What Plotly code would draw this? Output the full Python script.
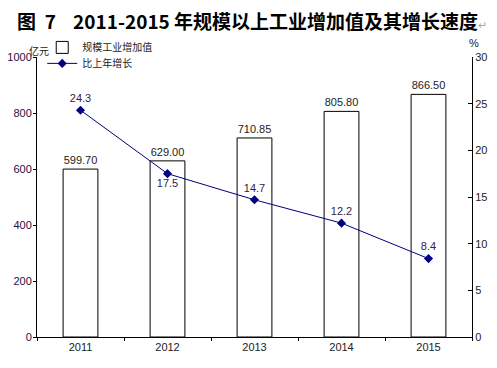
import plotly.graph_objects as go

years = ["2011", "2012", "2013", "2014", "2015"]
value_added = [599.70, 629.00, 710.85, 805.80, 866.50]
growth = [24.3, 17.5, 14.7, 12.2, 8.4]
growth_label_pos = ["top center", "bottom center", "top center", "top center", "top center"]

fig = go.Figure()
fig.add_trace(go.Bar(
    x=years, y=value_added, name="规模工业增加值",
    marker=dict(color="white", line=dict(color="black", width=1)),
    width=0.4,
    texttemplate="%{y:.2f}", textposition="outside",
    textfont=dict(size=11, color="#222", family="Arial"),
    cliponaxis=False, legend="legend",
))
fig.add_trace(go.Scatter(
    x=years, y=growth, name="比上年增长", yaxis="y2",
    mode="lines+markers+text",
    line=dict(color="#000080", width=1),
    marker=dict(symbol="diamond", size=7, color="#000080"),
    text=[f"{v:.1f}" for v in growth], textposition=growth_label_pos,
    textfont=dict(size=11, color="#3a1a4a", family="Arial"),
    cliponaxis=False, legend="legend2",
))

legend_font = dict(size=10, family="Noto Sans CJK SC", color="#222")
fig.update_layout(
    width=489, height=360,
    paper_bgcolor="white", plot_bgcolor="white",
    margin=dict(l=29, r=25, t=49, b=31, pad=0, autoexpand=False),
    font=dict(family="Arial, Liberation Sans, sans-serif", size=11, color="#222"),
    showlegend=True,
    legend=dict(x=0.012, y=1.086, xanchor="left", yanchor="top",
                bgcolor="rgba(0,0,0,0)", font=legend_font, itemwidth=30),
    legend2=dict(x=0.012, y=1.029, xanchor="left", yanchor="top",
                 bgcolor="rgba(0,0,0,0)", font=legend_font, itemwidth=30),
    bargap=0.6,
    xaxis=dict(range=[-0.5, 4.5], showline=True, linecolor="black", linewidth=1,
               ticks="outside", ticklen=3, tickcolor="black", tickson="boundaries",
               showgrid=False, tickfont=dict(size=11), automargin=False),
    yaxis=dict(range=[0, 1000], dtick=200, showline=True, linecolor="black", linewidth=1,
               ticks="outside", ticklen=3, tickcolor="black", showgrid=False, zeroline=False,
               tickfont=dict(size=11, color="#2a1040"), automargin=False,
               ticklabelstandoff=-1),
    yaxis2=dict(range=[0, 30], dtick=5, overlaying="y", side="right",
                showline=True, linecolor="black", linewidth=1,
                ticks="inside", ticklen=4, tickcolor="black", showgrid=False, zeroline=False,
                tickfont=dict(size=11), automargin=False),
    annotations=[
        dict(text="<b>图&nbsp;&nbsp;7&nbsp;&nbsp;&nbsp;&nbsp;2011-2015 年规模以上工业增加值及其增长速度</b><span style='color:#aaa;font-size:11px'>↵</span>",
             x=0, y=1, xref="paper", yref="paper", xanchor="left", yanchor="middle",
             showarrow=False, font=dict(size=19, family="Noto Sans CJK SC", color="black"),
             xshift=-22, yshift=37),
        dict(text="亿元", x=0, y=1, xref="paper", yref="paper", xanchor="center", yanchor="middle",
             showarrow=False, font=dict(size=10, family="Noto Sans CJK SC", color="#222"),
             xshift=2, yshift=7),
        dict(text="%", x=1, y=1, xref="paper", yref="paper", xanchor="center", yanchor="middle",
             showarrow=False, font=dict(size=11, color="#222"), xshift=2, yshift=14),
    ],
)

fig.write_html("out.html")
